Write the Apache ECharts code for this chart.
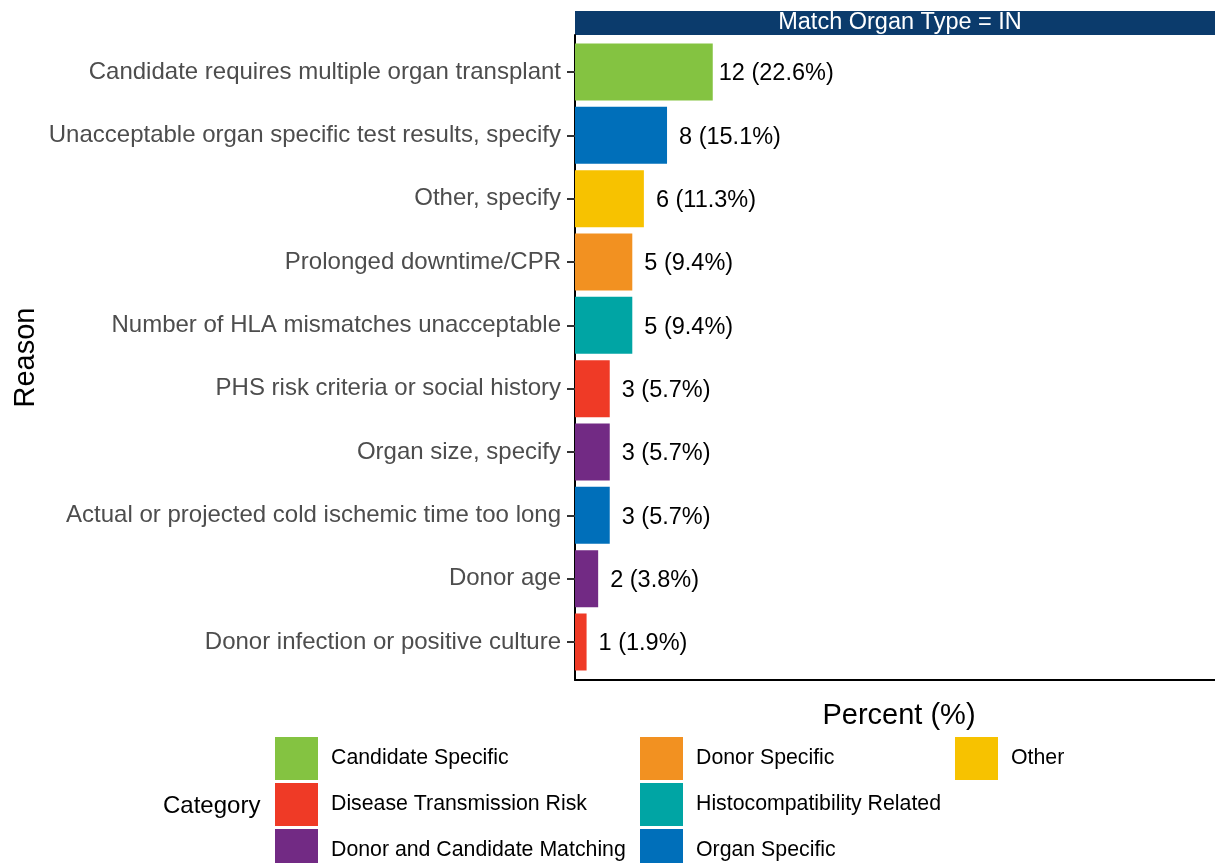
<!DOCTYPE html>
<html>
<head>
<meta charset="utf-8">
<script src="https://cdn.jsdelivr.net/npm/echarts@6/dist/echarts.min.js"></script>
<style>html,body{margin:0;padding:0;background:#fff}#c{width:1215px;height:863px}</style>
</head>
<body>
<div id="c"></div>
<script>
const reasons = [
  "Candidate requires multiple organ transplant",
  "Unacceptable organ specific test results, specify",
  "Other, specify",
  "Prolonged downtime/CPR",
  "Number of HLA mismatches unacceptable",
  "PHS risk criteria or social history",
  "Organ size, specify",
  "Actual or projected cold ischemic time too long",
  "Donor age",
  "Donor infection or positive culture"
];
const counts = [12, 8, 6, 5, 5, 3, 3, 3, 2, 1];
const percents = [22.6, 15.1, 11.3, 9.4, 9.4, 5.7, 5.7, 5.7, 3.8, 1.9];
const reasonCategory = [
  "Candidate Specific",
  "Organ Specific",
  "Other",
  "Donor Specific",
  "Histocompatibility Related",
  "Disease Transmission Risk",
  "Donor and Candidate Matching",
  "Organ Specific",
  "Donor and Candidate Matching",
  "Disease Transmission Risk"
];
const categoryNames = [
  "Candidate Specific",
  "Disease Transmission Risk",
  "Donor and Candidate Matching",
  "Donor Specific",
  "Histocompatibility Related",
  "Organ Specific",
  "Other"
];
const categoryColors = ["#84c341", "#ef3a26", "#722a84", "#f29121", "#00a5a4", "#006fba", "#f7c200"];
const legendColumns = [[0, 1, 2], [3, 4, 5], [6]];
const facetTitle = "Match Organ Type = IN";

const FONT = "Liberation Sans, Arial, Helvetica, sans-serif";
const chart = echarts.init(document.getElementById('c'), null, {renderer: 'canvas'});

const series = categoryNames.map((cat, ci) => ({
  name: cat,
  type: 'bar',
  xAxisIndex: 1,
  yAxisIndex: 1,
  barWidth: '90%',
  barGap: '-100%',
  itemStyle: {color: categoryColors[ci]},
  data: reasons.map((r, i) => reasonCategory[i] === cat ? {
    value: percents[i],
    label: {distance: i === 0 ? 6 : 12}
  } : '-'),
  label: {
    show: true,
    position: 'right',
    offset: [0, 2],
    color: '#000',
    fontFamily: FONT,
    fontSize: 23.5,
    formatter: p => counts[p.dataIndex] + ' (' + percents[p.dataIndex] + '%)'
  },
  emphasis: {disabled: true},
  animation: false
}));

const legendLefts = [275, 640, 955];
const legendTop0 = 737, legendRowStep = 46;
const legends = [];
legendColumns.forEach((col, k) => {
  col.forEach((ci, r) => {
    legends.push({
      orient: 'vertical',
      left: legendLefts[k],
      top: legendTop0 + r * legendRowStep,
      padding: 0,
      itemWidth: 43,
      itemHeight: 43,
      icon: 'rect',
      selectedMode: false,
      data: [categoryNames[ci]],
      textStyle: {fontFamily: FONT, fontSize: 21.3, color: '#000', padding: [7, 0, 0, 8]}
    });
  });
});

chart.setOption({
  animation: false,
  textStyle: {fontFamily: FONT},
  title: {
    text: 'Category', left: 163, top: 794, padding: 0,
    textStyle: {fontFamily: FONT, fontSize: 24, fontWeight: 'normal', color: '#000'}
  },
  legend: legends,
  grid: [
    {left: 575, width: 650, top: 35, bottom: 183},
    {left: 575, width: 650, top: 40.33, height: 633.33}
  ],
  xAxis: [
    {
      gridIndex: 0, type: 'value', min: 0, max: 105,
      axisLine: {show: true, lineStyle: {color: '#000', width: 2}},
      axisTick: {show: false}, axisLabel: {show: false}, splitLine: {show: false},
      name: 'Percent (%)', nameLocation: 'middle', nameGap: 21,
      nameTextStyle: {fontFamily: FONT, fontSize: 29, color: '#000', padding: [0, 0, 0, 8]}
    },
    {
      gridIndex: 1, type: 'value', min: 0, max: 105, show: false
    }
  ],
  yAxis: [
    {
      gridIndex: 0, type: 'value', min: 0, max: 1,
      axisLine: {show: true, lineStyle: {color: '#000', width: 2}},
      axisTick: {show: false}, axisLabel: {show: false}, splitLine: {show: false},
      name: 'Reason', nameLocation: 'middle', nameRotate: 90, nameGap: 535,
      nameTextStyle: {fontFamily: FONT, fontSize: 29, color: '#000'}
    },
    {
      gridIndex: 1, type: 'category', inverse: true, data: reasons,
      axisLine: {show: false},
      axisTick: {show: true, alignWithLabel: true, length: 8, lineStyle: {color: '#333', width: 2}},
      axisLabel: {margin: 14, color: '#4d4d4d', fontFamily: FONT, fontSize: 24, padding: [6, 0, 0, 0]},
      splitLine: {show: false}
    }
  ],
  graphic: [
    {type: 'rect', shape: {x: 575, y: 11, width: 650, height: 24}, style: {fill: '#0b3b6c'}, silent: true},
    {type: 'text', x: 900, y: 23, style: {text: facetTitle, fill: '#fff', font: '23.5px ' + FONT, textAlign: 'center', textVerticalAlign: 'middle'}, silent: true}
  ],
  series: series
});
</script>
</body>
</html>
